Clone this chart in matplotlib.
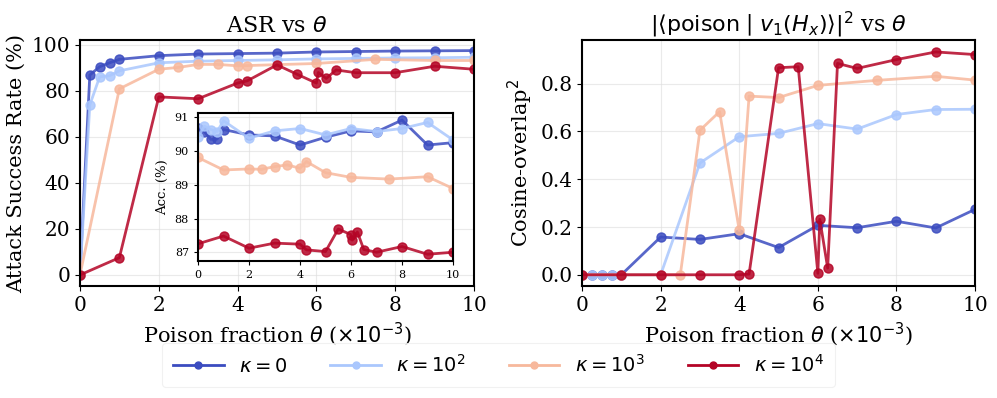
import matplotlib
matplotlib.use("Agg")
import matplotlib.pyplot as plt
import numpy as np

plt.rcParams['font.family'] = ['DejaVu Serif']
plt.rcParams['mathtext.fontset'] = 'dejavusans'

# ---------------- data (theta in units of 1e-3) ----------------
labels = [r"$\kappa=0$", r"$\kappa=10^2$", r"$\kappa=10^3$", r"$\kappa=10^4$"]

x_k0 = [0, 0.25, 0.5, 0.75, 1, 2, 3, 4, 5, 6, 7, 8, 9, 10]
x_k2 = [0, 0.25, 0.5, 0.75, 1, 2, 3, 4, 5, 6, 7, 8, 9, 10]
x_k3 = [0, 1, 2, 2.5, 3, 3.5, 4, 4.25, 5, 6, 7.5, 9, 10]
x_k4 = [0, 1, 2, 3, 4, 4.25, 5, 5.5, 6, 6.05, 6.25, 6.5, 7, 8, 9, 10]

# Attack success rate (%)
asr_k0 = [0, 86.8, 90.4, 92.1, 93.6, 95.2, 95.9, 96.1, 96.3, 96.8, 97.0, 97.2, 97.3, 97.4]
asr_k2 = [0, 73.8, 86.0, 86.5, 88.6, 92.1, 92.8, 93.1, 93.4, 93.8, 94.0, 94.2, 94.3, 94.5]
asr_k3 = [0, 80.8, 89.3, 90.1, 91.4, 91.4, 90.8, 90.9, 91.3, 91.8, 93.6, 93.1, 93.1]
asr_k4 = [0, 7.5, 77.3, 76.5, 83.3, 84.3, 91.2, 87.2, 83.3, 87.9, 85.3, 89.0, 87.8, 87.8, 90.6, 89.3]

# Clean accuracy (%) - inset
acc_k0 = [90.69, 90.58, 90.35, 90.36, 90.64, 90.48, 90.45, 90.18, 90.41, 90.60, 90.57, 90.92, 90.18, 90.25]
acc_k2 = [90.43, 90.74, 90.64, 90.58, 90.90, 90.38, 90.60, 90.67, 90.48, 90.67, 90.58, 90.67, 90.85, 90.33]
acc_k3 = [89.81, 89.44, 89.47, 89.46, 89.54, 89.59, 89.49, 89.69, 89.36, 89.22, 89.17, 89.24, 88.89]
acc_k4 = [87.25, 87.48, 87.12, 87.27, 87.24, 87.07, 87.02, 87.69, 87.52, 87.36, 87.60, 87.08, 87.00, 87.17, 86.94, 87.00]

# Cosine overlap^2
ov_k0 = [0, 0, 0, 0, 0, 0.158, 0.148, 0.172, 0.114, 0.207, 0.197, 0.224, 0.196, 0.274]
ov_k2 = [0, 0, 0, 0, 0, 0, 0.468, 0.578, 0.592, 0.633, 0.610, 0.671, 0.692, 0.693]
ov_k3 = [0, 0, 0, 0, 0.605, 0.683, 0.186, 0.748, 0.742, 0.793, 0.814, 0.831, 0.815]
ov_k4 = [0, 0, 0, 0, 0, 0.003, 0.867, 0.871, 0.006, 0.232, 0.028, 0.885, 0.864, 0.901, 0.933, 0.922]

xs = [x_k0, x_k2, x_k3, x_k4]
asr = [asr_k0, asr_k2, asr_k3, asr_k4]
acc = [acc_k0, acc_k2, acc_k3, acc_k4]
ov = [ov_k0, ov_k2, ov_k3, ov_k4]

colors = [plt.cm.coolwarm(v) for v in np.linspace(0, 1, 4)]

fig = plt.figure(figsize=(9.97, 3.98), dpi=100)
axL = fig.add_axes([0.0802, 0.2814, 0.3952, 0.6181])
axR = fig.add_axes([0.5838, 0.2814, 0.3942, 0.6181])
axI = fig.add_axes([0.1986, 0.3442, 0.2558, 0.3719])

lw = 2.0
ms = 6.5
handles = []
for i in range(4):
    h, = axL.plot(xs[i], asr[i], '-o', color=colors[i], lw=lw, ms=ms, alpha=0.85, label=labels[i])
    handles.append(h)
    axR.plot(xs[i], ov[i], '-o', color=colors[i], lw=lw, ms=ms, alpha=0.85)
    axI.plot(xs[i], acc[i], '-o', color=colors[i], lw=lw, ms=ms, alpha=0.85)

for ax in (axL, axR, axI):
    ax.grid(True, color='#dddddd', lw=0.8, alpha=0.6)
    ax.set_axisbelow(True)
    for s in ax.spines.values():
        s.set_linewidth(1.5)
    ax.set_xlim(0, 10)
    ax.set_xticks([0, 2, 4, 6, 8, 10])

axL.set_ylim(-4.8, 102)
axL.set_yticks([0, 20, 40, 60, 80, 100])
axL.set_title(r"ASR vs $\theta$", fontsize=16)
axL.set_ylabel("Attack Success Rate (%)", fontsize=15)
axL.set_xlabel(r"Poison fraction $\theta$ ($\times10^{-3}$)", fontsize=15)
axL.tick_params(labelsize=14.5)

axR.set_ylim(-0.047, 0.983)
axR.set_yticks([0, 0.2, 0.4, 0.6, 0.8])
axR.set_yticklabels(["0.0", "0.2", "0.4", "0.6", "0.8"])
axR.set_title(r"$|\langle \mathrm{poison} \mid v_1(H_x)\rangle|^2$ vs $\theta$", fontsize=16)
axR.set_ylabel(r"Cosine-overlap$^2$", fontsize=15)
axR.set_xlabel(r"Poison fraction $\theta$ ($\times10^{-3}$)", fontsize=15)
axR.tick_params(labelsize=14.5)

axI.set_ylim(86.74, 91.13)
axI.set_yticks([87, 88, 89, 90, 91])
axI.set_ylabel("Acc. (%)", fontsize=9.5)
axI.tick_params(labelsize=8, length=3)

leg = fig.legend(handles=handles, loc='center', bbox_to_anchor=(0.5, 0.083), ncol=4,
                 prop={'family': 'DejaVu Sans', 'size': 14}, frameon=True,
                 handlelength=2.6, columnspacing=2.2, borderpad=0.55)
leg.get_frame().set_edgecolor('#eeeeee')
leg.get_frame().set_linewidth(0.8)
for lh in leg.legend_handles:
    lh.set_alpha(1.0)
    lh.set_markersize(5)

fig.savefig("out.png", dpi=100)
